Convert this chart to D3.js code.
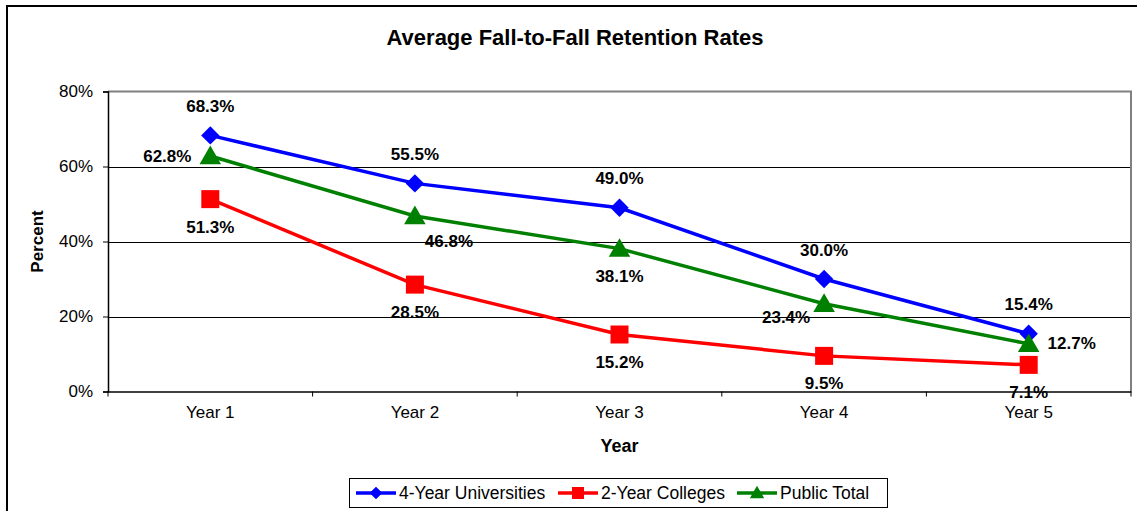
<!DOCTYPE html>
<html lang="en">
<head>
<meta charset="UTF-8">
<title>Average Fall-to-Fall Retention Rates</title>
<script src="https://d3js.org/d3.v7.min.js"></script>
<style>
  body { margin: 0; background: #fff; }
  text { font-family: "Liberation Sans", Arial, sans-serif; fill: #000; }
</style>
</head>
<body>
<div id="fig"></div>
<script>
// data
let years = ["Year 1", "Year 2", "Year 3", "Year 4", "Year 5"];
let universities = [68.3, 55.5, 49.0, 30.0, 15.4];
let colleges = [51.3, 28.5, 15.2, 9.5, 7.1];
let publicTotal = [62.8, 46.8, 38.1, 23.4, 12.7];
let yTicks = [0, 20, 40, 60, 80];

// where each value label sits relative to its point
let labelSpots = {
    t: [0, -29], b: [0, 28], l: [-43, 0], r: [43, 0], br: [34, 25], bl: [-38, 14]
};
let series = [
    {name: "4-Year Universities", values: universities, color: "#0000ff", shape: "diamond", spots: ["t", "t", "t", "t", "t"]},
    {name: "2-Year Colleges", values: colleges, color: "#ff0000", shape: "square", spots: ["b", "b", "b", "b", "b"]},
    {name: "Public Total", values: publicTotal, color: "#008000", shape: "triangle", spots: ["l", "br", "b", "bl", "r"]}
];

let W = 1137, H = 511;
let pLeft = 108, pRight = 1131, pTop = 91.5, pBottom = 391.5;

let svg = d3.select("#fig").append("svg").attr("width", W).attr("height", H);

// outer chart border (runs off the right/bottom edge)
svg.append("rect").attr("x", 7).attr("y", 6).attr("width", 1140).attr("height", 515)
    .attr("fill", "#fff").attr("stroke", "#000").attr("stroke-width", 2);

let x = d3.scaleBand().domain(years).range([pLeft, pRight]);
let y = d3.scaleLinear().domain([0, 80]).range([pBottom, pTop]);

// gridlines
svg.append("g").selectAll("line").data(yTicks.filter(d => d > 0 && d < 80)).join("line")
    .attr("x1", pLeft).attr("x2", pRight)
    .attr("y1", d => Math.round(y(d)) + 0.5).attr("y2", d => Math.round(y(d)) + 0.5)
    .attr("stroke", "#000").attr("stroke-width", 1);

// plot border top/right
svg.append("path")
    .attr("d", `M${pLeft},${pTop}H${pRight}V${pBottom}`)
    .attr("fill", "none").attr("stroke", "#808080").attr("stroke-width", 2);

// y axis
let yAxis = svg.append("g").attr("transform", `translate(${pLeft},0)`)
    .call(d3.axisLeft(y).tickValues(yTicks).tickFormat(d => d + "%").tickSize(5).tickPadding(10));
yAxis.select(".domain").attr("stroke", "#000").attr("stroke-width", 1.5);
yAxis.selectAll(".tick line").attr("stroke", "#000");
yAxis.selectAll("text").style("font-size", "17px").attr("fill", "#000");

// x axis
let xAxis = svg.append("g").attr("transform", `translate(0,${pBottom})`)
    .call(d3.axisBottom(x).tickSize(0).tickPadding(14));
xAxis.select(".domain").attr("stroke", "#000").attr("stroke-width", 1.5);
xAxis.selectAll("text").style("font-size", "17px").attr("fill", "#000");
xAxis.selectAll("line.cut").data(d3.range(years.length + 1)).join("line").attr("class", "cut")
    .attr("x1", i => pLeft + i * x.step()).attr("x2", i => pLeft + i * x.step())
    .attr("y1", 0).attr("y2", 5).attr("stroke", "#000");

// titles
svg.append("text").attr("x", 575).attr("y", 37).attr("text-anchor", "middle")
    .attr("dominant-baseline", "central").style("font-size", "22px").style("font-weight", "bold")
    .text("Average Fall-to-Fall Retention Rates");
svg.append("text").attr("x", (pLeft + pRight) / 2).attr("y", 446).attr("text-anchor", "middle")
    .attr("dominant-baseline", "central").style("font-size", "18px").style("font-weight", "bold")
    .text("Year");
svg.append("text").attr("transform", `translate(37,${(pTop + pBottom) / 2}) rotate(-90)`)
    .attr("text-anchor", "middle").attr("dominant-baseline", "central")
    .style("font-size", "17px").style("font-weight", "bold").text("Percent");

let cx = (d, i) => x(years[i]) + x.bandwidth() / 2;
function marker(sel, shape, size) {
    if (shape === "triangle") sel.attr("d", d3.symbol(d3.symbolTriangle, size * size * 0.62)());
    else sel.attr("d", d3.symbol(d3.symbolSquare, size * size)());
}

series.forEach(s => {
    let g = svg.append("g");
    g.append("path").datum(s.values)
        .attr("d", d3.line().x(cx).y(d => y(d)))
        .attr("fill", "none").attr("stroke", s.color).attr("stroke-width", 3.5);
    g.selectAll("path.m").data(s.values).join("path").attr("class", "m")
        .each(function () { marker(d3.select(this), s.shape, s.shape === "diamond" ? 13 : 18); })
        .attr("transform", (d, i) => `translate(${cx(d, i)},${y(d) + (s.shape === "triangle" ? 2 : 0)})` + (s.shape === "diamond" ? " rotate(45)" : ""))
        .attr("fill", s.color);
});

// value labels
series.forEach(s => {
    svg.append("g").selectAll("text").data(s.values).join("text")
        .attr("x", (d, i) => cx(d, i) + labelSpots[s.spots[i]][0])
        .attr("y", (d, i) => y(d) + labelSpots[s.spots[i]][1])
        .attr("text-anchor", "middle").attr("dominant-baseline", "central")
        .style("font-size", "17px").style("font-weight", "bold")
        .text(d => d.toFixed(1) + "%");
});

// legend
let lg = svg.append("g");
lg.append("rect").attr("x", 349.5).attr("y", 478.5).attr("width", 538).attr("height", 29)
    .attr("fill", "#fff").attr("stroke", "#000").attr("stroke-width", 1);
let legendX = [356, 558, 737];
series.forEach((s, k) => {
    let lx = legendX[k], ly = 493;
    lg.append("line").attr("x1", lx).attr("x2", lx + 40).attr("y1", ly).attr("y2", ly)
        .attr("stroke", s.color).attr("stroke-width", 3.5);
    let m = lg.append("path").attr("fill", s.color);
    marker(m, s.shape, s.shape === "diamond" ? 9 : 12);
    m.attr("transform", `translate(${lx + 20},${ly + (s.shape === "triangle" ? 1 : 0)})` + (s.shape === "diamond" ? " rotate(45)" : ""));
    lg.append("text").attr("x", lx + 43).attr("y", ly).attr("dominant-baseline", "central")
        .style("font-size", "17.5px").text(s.name);
});
</script>
</body>
</html>
